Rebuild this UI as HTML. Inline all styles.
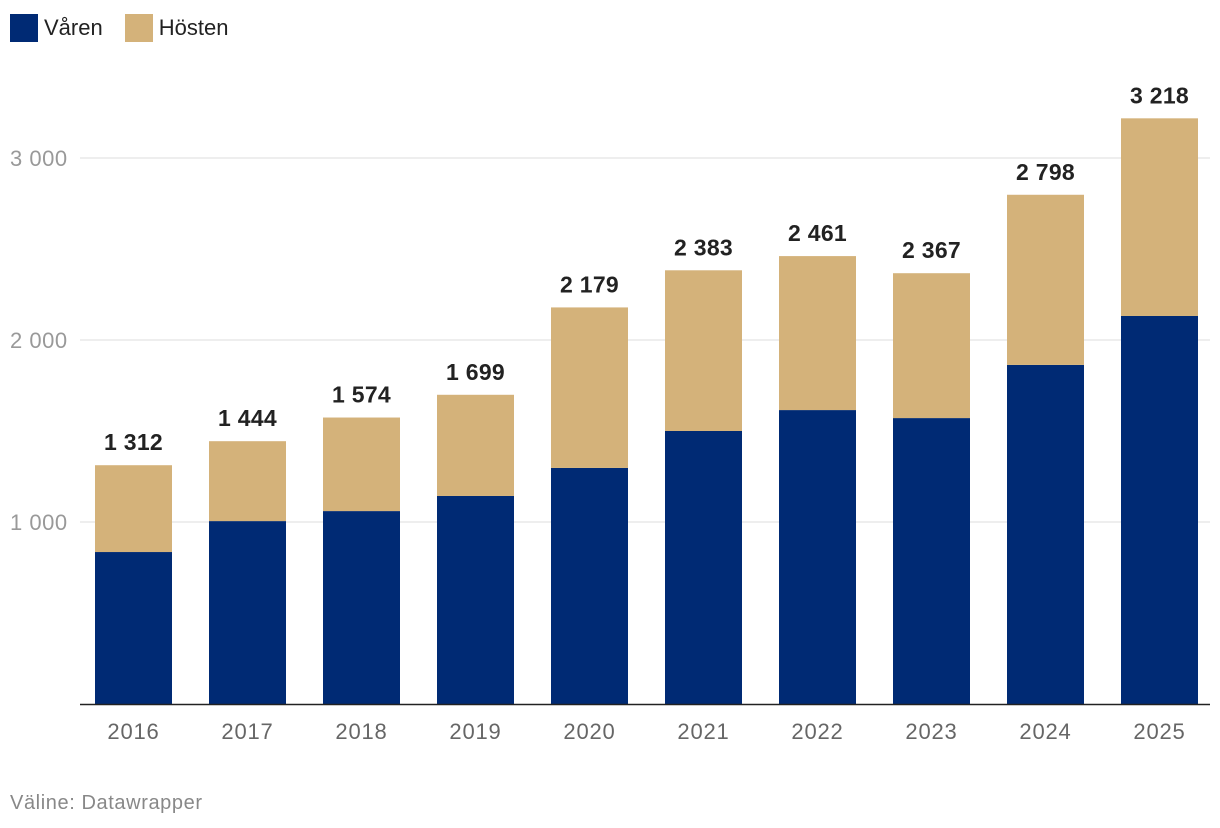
<!DOCTYPE html>
<html><head><meta charset="utf-8"><style>
body{margin:0;background:#fff;font-family:"Liberation Sans",sans-serif;}
#wrap{position:relative;width:1220px;height:828px;overflow:hidden}
</style></head><body>
<div id="wrap">
<div style="position:absolute;left:10px;top:14px;font-size:22px;color:#222;display:flex;align-items:center;">
 <span style="width:28px;height:28px;background:#002a74;display:inline-block;margin-right:6px"></span><span style="margin-right:22px">Våren</span>
 <span style="width:28px;height:28px;background:#d4b27a;display:inline-block;margin-right:6px"></span><span>Hösten</span>
</div>
<svg id="svg" width="1220" height="828" style="position:absolute;left:0;top:0"></svg>
<div style="position:absolute;left:10px;top:792px;font-size:20px;letter-spacing:0.6px;color:#888">Väline: Datawrapper</div>
</div>
<script>
const categories=["2016","2017","2018","2019","2020","2021","2022","2023","2024","2025"];
const varen=[835,1005,1060,1143,1297,1500,1615,1571,1863,2132];
const totals=[1312,1444,1574,1699,2179,2383,2461,2367,2798,3218];
const totalLabels=["1 312","1 444","1 574","1 699","2 179","2 383","2 461","2 367","2 798","3 218"];
const yTicks=[1000,2000,3000];
const yTickLabels=["1 000","2 000","3 000"];
const NS="http://www.w3.org/2000/svg";
const svg=document.getElementById('svg');
const y=v=>704-v*0.182;
const x=i=>95+i*114;
const bw=77;
function mk(t,a){const e=document.createElementNS(NS,t);for(const k in a)e.setAttribute(k,a[k]);svg.appendChild(e);return e;}
yTicks.forEach((v,i)=>{
 const l=mk('line',{x1:80,x2:1210,y1:y(v),y2:y(v),stroke:'#ddd','stroke-width':1});
 
 
 const t=mk('text',{x:10,y:y(v)+8,'font-size':22,'letter-spacing':0.5,fill:'#999','font-family':'Liberation Sans'});
 t.textContent=yTickLabels[i];
 
 
});
categories.forEach((c,i)=>{
 const r1=mk('rect',{x:x(i),y:y(varen[i]),width:bw,height:y(0)-y(varen[i]),fill:'#002a74'});
 
 
 const r2=mk('rect',{x:x(i),y:y(totals[i]),width:bw,height:y(varen[i])-y(totals[i]),fill:'#d4b27a'});
 
 
 const t=mk('text',{x:x(i)+bw/2,y:y(totals[i])-15,'font-size':23,'font-weight':'bold','letter-spacing':0.3,fill:'#222','text-anchor':'middle','font-family':'Liberation Sans'});
 t.textContent=totalLabels[i];
 
 
 const xl=mk('text',{x:x(i)+bw/2,y:739,'font-size':22,'letter-spacing':0.8,fill:'#666','text-anchor':'middle','font-family':'Liberation Sans'});
 xl.textContent=c;
 
 
});
const ax=mk('line',{x1:80,x2:1210,y1:704.5,y2:704.5,stroke:'#222','stroke-width':1.5});


</script>
</body></html>
